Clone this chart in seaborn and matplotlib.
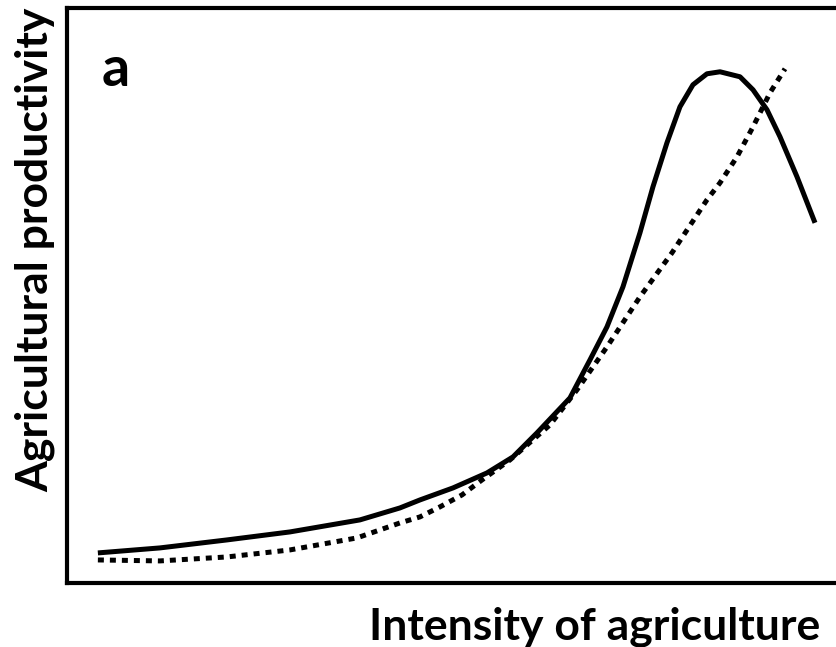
import numpy as np
import pandas as pd
import matplotlib
matplotlib.use("Agg")
import matplotlib.pyplot as plt
import seaborn as sns

# values (x, y on a 0-100 scale)
solid_x = [4.03, 12.09, 20.81, 29.00, 38.10, 43.30, 45.90, 50.20, 54.62, 58.00,
           61.12, 65.41, 68.01, 70.22, 72.30, 74.51, 76.20, 78.02, 79.71, 81.40,
           83.22, 84.92, 87.52, 89.21, 91.03, 92.72, 94.93, 97.27]
solid_y = [5.22, 6.09, 7.48, 8.87, 10.96, 13.04, 14.43, 16.52, 19.13, 21.91,
           26.09, 32.17, 38.78, 44.52, 51.48, 60.87, 68.87, 76.52, 82.78, 86.61,
           88.52, 88.87, 88.00, 85.74, 82.26, 77.57, 70.61, 62.61]

dotted_x = [4.03, 12.09, 20.81, 29.00, 37.71, 43.30, 45.90, 48.50, 51.37, 53.97,
            57.61, 62.81, 66.32, 70.22, 74.51, 78.67, 83.22, 84.92, 87.13, 89.21,
            91.42, 93.37]
dotted_y = [4.00, 3.83, 4.52, 5.74, 7.83, 10.43, 11.48, 13.22, 15.30, 17.91,
            21.39, 27.48, 33.57, 41.04, 49.74, 57.39, 66.61, 69.57, 74.09, 79.30,
            85.22, 89.39]

xlabel = "Intensity of agriculture"
ylabel = "Agricultural productivity"
panel = "a"

sns.set_style("white")
plt.rcParams['font.family'] = ['Lato', 'DejaVu Sans']
plt.rcParams['text.color'] = 'black'

fig = plt.figure(figsize=(8.36, 6.47), dpi=100)
ax = fig.add_axes([0.080, 0.099, 0.92, 0.889])

solid = pd.DataFrame({"x": solid_x, "y": solid_y})
dotted = pd.DataFrame({"x": dotted_x, "y": dotted_y})

sns.lineplot(data=solid, x="x", y="y", ax=ax, color="black", lw=3.6,
             sort=False, solid_capstyle="butt", solid_joinstyle="round")
sns.lineplot(data=dotted, x="x", y="y", ax=ax, color="black", lw=3.6,
             sort=False, dashes=False, linestyle=(0, (1.2, 1.2)),
             dash_capstyle="butt")

ax.set_xlim(0, 100)
ax.set_ylim(0, 100)
ax.set_xticks([])
ax.set_yticks([])
ax.set_xlabel("")
ax.set_ylabel("")
for s in ["left", "top", "bottom"]:
    ax.spines[s].set_linewidth(3)
    ax.spines[s].set_color("black")
ax.spines["right"].set_visible(False)

ax.text(0.045, 0.935, panel, transform=ax.transAxes, fontsize=40,
        fontweight="bold", va="top", ha="left", color="black")
fig.text(0.711, 0.011, xlabel, fontsize=32, fontweight="bold",
         ha="center", va="baseline", color="black")
fig.text(0.042, 0.614, ylabel, fontsize=32, fontweight="bold",
         ha="center", va="center", rotation=90, color="black")

fig.savefig("out.png", dpi=100)
